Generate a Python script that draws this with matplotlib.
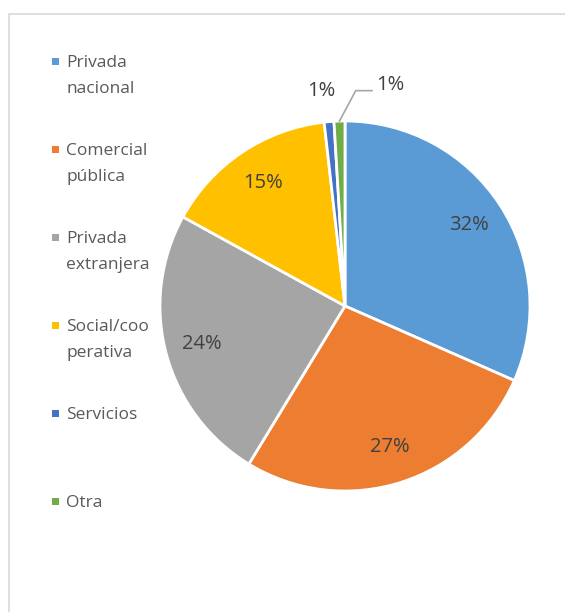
import numpy as np
import matplotlib.pyplot as plt
from matplotlib.patches import Rectangle

# Datos
categorias = ['Privada\nnacional', 'Comercial\npública', 'Privada\nextranjera',
              'Social/coo\nperativa', 'Servicios', 'Otra']
porcentajes = [31.6, 27.1, 24.3, 15.2, 0.85, 0.95]
colores = ['#5b9bd5', '#ed7d31', '#a5a5a5', '#ffc000', '#4472c4', '#70ad47']

plt.rcParams['font.family'] = ['Open Sans', 'DejaVu Sans']

W, H = 565, 612
fig = plt.figure(figsize=(W / 100, H / 100), dpi=100)

# marco gris del área del gráfico
fig.patches.append(Rectangle((9 / W, -0.05), 1.1, 1 - 14 / H + 0.05,
                             transform=fig.transFigure, fill=False,
                             edgecolor='#d9d9d9', lw=1.2))

# ejes del pastel: centro (345, 306) px, radio 185 px
cx, cy, r = 345, 306, 185
ax = fig.add_axes([(cx - r) / W, (H - cy - r) / H, 2 * r / W, 2 * r / H])
wedges, texts, autotexts = ax.pie(
    porcentajes, colors=colores, startangle=90, counterclock=False,
    autopct='%.0f%%', pctdistance=0.8,
    wedgeprops=dict(edgecolor='white', linewidth=2),
    textprops=dict(color='#404040', fontsize=14.5))
ax.set_xlim(-1, 1)
ax.set_ylim(-1, 1)
ax.set_aspect('equal')
ax.axis('off')

# etiquetas de las porciones pequeñas fuera del pastel
autotexts[4].set_position((-0.13, 1.16))
autotexts[4].set_ha('center')
autotexts[5].set_position((0.17, 1.195))
autotexts[5].set_ha('left')
w = wedges[5]
ang = np.deg2rad((w.theta1 + w.theta2) / 2)
x0, y0 = np.cos(ang), np.sin(ang)
ax.plot([x0, 0.058, 0.146], [y0, 1.164, 1.164], color='#a6a6a6', lw=1.2,
        clip_on=False)

# leyenda a la izquierda
for i, (cat, col) in enumerate(zip(categorias, colores)):
    yb = 69 + 88 * i
    fig.patches.append(Rectangle((52 / W, 1 - (yb - 4) / H), 7 / W, 7 / H,
                                 transform=fig.transFigure, color=col, lw=0))
    fig.text(66 / W, 1 - (yb - 14) / H, cat, color='#595959', fontsize=12.5,
             va='top', ha='left', linespacing=1.8)

fig.savefig('out.png', dpi=100)
